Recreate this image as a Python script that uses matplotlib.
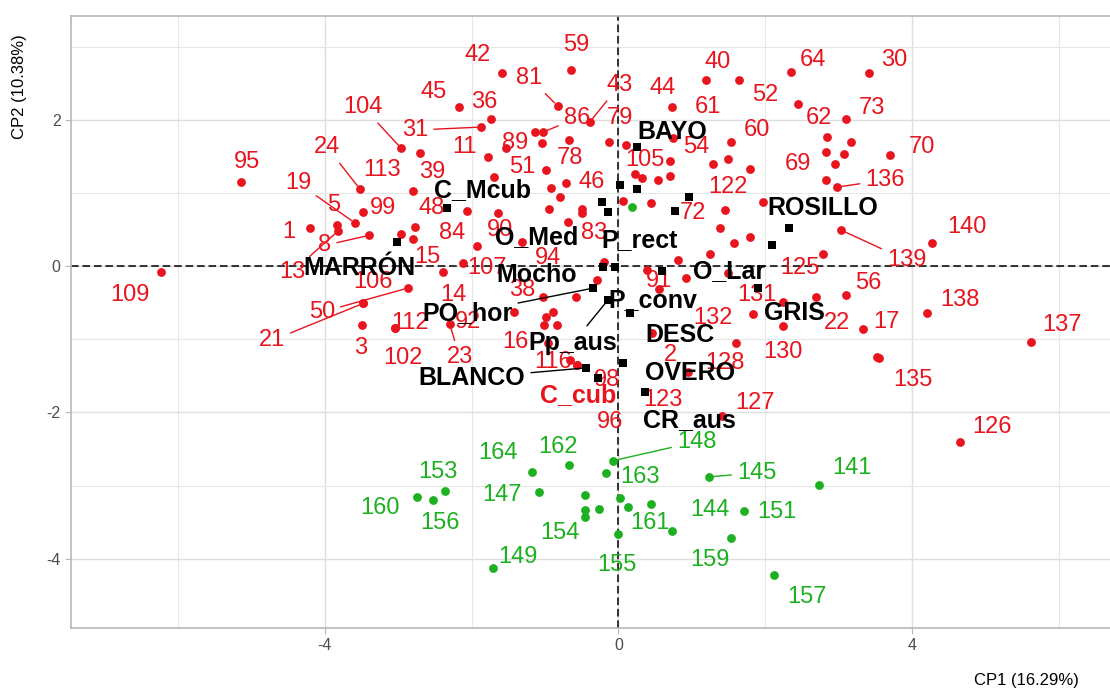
import matplotlib.pyplot as plt
from matplotlib.ticker import FixedLocator

plt.rcParams['font.family'] = ['Liberation Sans', 'DejaVu Sans']
plt.rcParams['axes.unicode_minus'] = False

ROJO = '#E8141E'
VERDE = '#1DB020'

# individuos del grupo 1 (rojo); "" = sin etiqueta
rojo_lab = ["95", "109", "1", "5", "24", "19", "113", "99", "8", "13", "21", "50", "106",
            "3", "112", "102", "23", "92", "14", "15", "84", "107", "48", "39", "104",
            "31", "45", "36", "42", "59", "81", "11", "89", "86", "43", "79", "51", "78",
            "46", "90", "94", "83", "38", "16", "116", "98", "96", "40", "61", "64", "30",
            "44", "52", "73", "62", "60", "54", "69", "136", "70", "105", "122", "72",
            "139", "140", "125", "56", "138", "137", "17", "22", "135", "126", "131",
            "132", "130", "91", "2", "128", "123", "127"] + [""] * 40
rojo_x = [-5.14, -6.23, -4.20, -3.83, -3.52, -3.59, -2.80, -3.48, -3.40, -3.82, -3.48, -2.87, -3.48,
          -3.49, -3.04, -3.04, -2.30, -1.42, -2.39, -2.12, -2.80, -1.93, -2.07, -2.70, -2.96,
          -1.87, -2.17, -1.74, -1.59, -0.65, -0.83, -1.78, -1.53, -1.03, -0.39, -0.13, -0.99, -0.72,
          -0.49, -1.64, -1.32, -0.19, -1.03, -0.96, -0.66, -0.57, -0.57, 1.20, 1.65, 2.35, 3.41,
          0.73, 2.45, 3.10, 2.84, 1.53, 0.74, 2.83, 2.98, 3.70, 0.70, 1.45, 1.38,
          3.04, 4.28, 2.79, 3.10, 4.20, 5.63, 3.34, 2.69, 3.55, 4.66, 2.24,
          1.83, 2.24, 0.56, 0.46, 1.60, 0.95, 1.41,
          -1.13, -1.04, -0.68, -1.70, -0.92, -0.80, -0.95, 0.11, 3.17, 3.07,
          2.95, 2.83, 0.70, 0.54, 0.22, 0.32, 1.29, 1.49, 1.79, 0.06,
          0.44, 1.97, 1.57, 1.79, 1.25, 0.81, 0.39, 0.92, 1.49, 3.53,
          -2.77, -0.69, -0.50, -0.58, -0.29, -0.98, -0.89, -0.84, -1.02, -2.96]
rojo_y = [1.15, -0.08, 0.52, 0.56, 1.05, 0.59, 1.02, 0.74, 0.42, 0.48, -0.51, -0.30, -0.51,
          -0.81, -0.85, -0.85, -0.79, -0.63, -0.08, 0.04, 0.37, 0.27, 0.75, 1.54, 1.61,
          1.90, 2.17, 2.01, 2.64, 2.68, 2.19, 1.49, 1.61, 1.83, 1.97, 1.69, 1.31, 1.13,
          0.78, 0.72, 0.33, 0.05, -0.42, -1.05, -1.28, -1.35, -1.35, 2.54, 2.54, 2.65, 2.64,
          2.17, 2.21, 2.01, 1.76, 1.69, 1.75, 1.56, 1.08, 1.52, 1.43, 0.77, 0.52,
          0.49, 0.31, 0.16, -0.40, -0.64, -1.04, -0.86, -0.42, -1.26, -2.40, -0.49,
          -0.66, -0.82, -0.31, -0.92, -1.05, -1.45, -2.05,
          1.83, 1.68, 1.73, 1.22, 1.07, 0.94, 0.78, 1.65, 1.69, 1.53,
          1.39, 1.17, 1.23, 1.17, 1.26, 1.20, 1.39, 1.46, 1.33, 0.89,
          0.86, 0.87, 0.31, 0.40, 0.16, 0.08, -0.05, -0.16, -0.10, -1.24,
          0.53, 0.60, 0.72, -0.42, -0.19, -0.70, -0.63, -0.81, -0.81, 0.44]

# individuos del grupo 2 (verde)
verde_lab = ["164", "162", "153", "160", "156", "147", "154", "149", "148", "155",
             "163", "145", "141", "144", "151", "161", "159", "157"] + [""] * 6
verde_x = [-1.18, -0.68, -2.36, -2.75, -2.53, -1.08, -0.46, -1.71, -0.08, -0.01,
           0.02, 1.23, 2.73, 0.44, 1.71, 0.73, 1.53, 2.12,
           -0.46, -0.46, -0.27, -0.17, 0.13, 0.18]
verde_y = [-2.81, -2.72, -3.07, -3.16, -3.20, -3.09, -3.33, -4.13, -2.66, -3.66,
           -3.17, -2.88, -2.99, -3.25, -3.35, -3.62, -3.72, -4.22,
           -3.13, -3.43, -3.32, -2.83, -3.29, 0.81]

# variables (cuadrados negros)
var_lab = ["BAYO", "C_Mcub", "MARRÓN", "ROSILLO", "GRIS", "O_Lar", "PO_hor", "Pp_aus",
           "P_conv", "DESC", "OVERO", "CR_aus", "BLANCO", "O_Med", "P_rect", "Mocho",
           "C_cub", "", "", "", "", "", ""]
var_x = [0.25, -2.34, -3.02, 2.32, 1.90, 0.60, -0.34, -0.14,
         0.16, 0.06, 0.36, 0.36, -0.44, -0.23, 0.77, -0.21,
         -0.28, 0.02, 0.25, 0.96, -0.14, -0.05, 2.09]
var_y = [1.63, 0.79, 0.33, 0.52, -0.30, -0.07, -0.30, -0.46,
         -0.64, -1.33, -1.72, -1.72, -1.39, 0.87, 0.75, -0.01,
         -1.53, 1.11, 1.05, 0.94, 0.74, -0.01, 0.29]

# desplazamiento de cada etiqueta respecto a su punto (pixeles)
desp = {
    "95": (6, 20), "109": (-31, -23), "1": (-21, -4), "5": (-4, 20), "24": (-33, 42),
    "19": (-57, 40), "113": (-31, 21), "99": (20, 4), "8": (-44, -10), "13": (-46, -41),
    "21": (-91, -37), "50": (-86, -24), "106": (10, 21), "3": (-2, -23), "112": (15, 5),
    "102": (8, -30), "23": (10, -33), "92": (-46, -10), "14": (10, -23), "15": (-35, 6),
    "84": (39, 6), "107": (10, -22), "48": (-35, 3), "39": (12, -19), "104": (-38, 41),
    "31": (-66, -3), "45": (-26, 15), "36": (-6, 17), "42": (-24, 18), "59": (6, 25),
    "81": (-28, 28), "11": (-23, 10), "89": (9, 5), "86": (34, 14), "43": (30, 37),
    "79": (11, 24), "51": (-24, 3), "78": (4, 25), "46": (9, 27), "90": (2, -17),
    "94": (26, -16), "83": (-10, 29), "38": (-21, 7), "16": (-33, 1), "116": (-17, -2),
    "98": (30, -15), "96": (33, -57), "40": (11, 18), "61": (-32, -27), "64": (22, 12),
    "30": (26, 13), "44": (-9, 19), "52": (-33, 9), "73": (26, 11), "62": (-8, 19),
    "60": (26, 12), "54": (24, -9), "69": (-28, -12), "136": (48, 7), "70": (32, 8),
    "105": (-25, 1), "122": (3, 23), "72": (-27, 15), "139": (65, -30), "140": (34, 16),
    "125": (-23, -14), "56": (22, 12), "138": (33, 13), "137": (31, 17), "17": (23, 7),
    "22": (21, -26), "135": (34, -22), "126": (32, 15), "131": (-26, 7), "132": (-40, -4),
    "130": (0, -26), "91": (0, 8), "2": (18, -22), "128": (-11, -20), "123": (-25, -28),
    "127": (33, 13),
    "164": (-34, 19), "162": (-11, 18), "153": (-7, 19), "160": (-37, -11), "156": (7, -23),
    "147": (-37, -3), "154": (-25, -23), "149": (25, 11), "148": (84, 19), "155": (-1, -31),
    "163": (20, 21), "145": (48, 4), "141": (33, 17), "144": (59, -6), "151": (33, -1),
    "161": (-22, 8), "159": (-21, -22), "157": (33, -22),
    "BAYO": (36, 15), "C_Mcub": (36, 18), "MARRÓN": (-37, -26), "ROSILLO": (34, 20),
    "GRIS": (37, -25), "O_Lar": (67, 0), "PO_hor": (-126, -25), "Pp_aus": (-35, -43),
    "P_conv": (23, 13), "DESC": (57, 28), "OVERO": (45, 19), "CR_aus": (45, -28),
    "BLANCO": (-114, -10), "O_Med": (-65, -35), "P_rect": (-35, -29), "Mocho": (-66, -8),
    "C_cub": (-20, -17),
}
con_linea = {"24", "19", "8", "13", "21", "50", "104", "31", "81", "86", "43", "136",
             "139", "23", "148", "145", "PO_hor", "Pp_aus", "BLANCO", "C_Mcub"}

fig = plt.figure(figsize=(11.1, 6.89), dpi=100)
ax = fig.add_axes([0.064, 0.0885, 0.936, 0.888])

ax.set_xlim(-7.46, 6.70)
ax.set_ylim(-4.945, 3.415)
ax.xaxis.set_major_locator(FixedLocator([-4, 0, 4]))
ax.xaxis.set_minor_locator(FixedLocator([-6, -2, 2, 6]))
ax.yaxis.set_major_locator(FixedLocator([-4, -2, 0, 2]))
ax.yaxis.set_minor_locator(FixedLocator([-3, -1, 1, 3]))
ax.grid(which='major', color='#DEDEDE', lw=1.0)
ax.grid(which='minor', color='#E6E6E6', lw=0.8)
ax.set_axisbelow(True)
for s in ['top', 'left', 'bottom']:
    ax.spines[s].set_color('#B8B8B8')
    ax.spines[s].set_linewidth(1.2)
ax.spines['right'].set_visible(False)
ax.tick_params(which='major', colors='#B8B8B8', labelcolor='#4D4D4D', length=4,
               labelsize=11.5)
ax.tick_params(which='minor', length=0)

ax.axhline(0, color='black', lw=1.1, ls=(0, (5, 2.5)), zorder=2)
ax.axvline(0, color='black', lw=1.1, ls=(0, (5, 2.5)), zorder=2)

ax.scatter(rojo_x, rojo_y, s=40, color=ROJO, zorder=3, linewidths=0)
ax.scatter(verde_x, verde_y, s=40, color=VERDE, zorder=3, linewidths=0)
ax.scatter(var_x, var_y, s=30, marker='s', color='black', zorder=5, linewidths=0)


def etiquetar(labs, xs, ys, color, size, peso, z):
    for lab, x, y in zip(labs, xs, ys):
        if not lab:
            continue
        dx, dy = desp[lab]
        flecha = None
        if lab in con_linea:
            flecha = dict(arrowstyle='-', color=color, lw=1.0, shrinkA=2, shrinkB=3)
        c = ROJO if lab == "C_cub" else color
        ax.annotate(lab, (x, y), xytext=(dx, dy), textcoords='offset pixels',
                    ha='center', va='center', fontsize=size, fontweight=peso,
                    color=c, zorder=z, arrowprops=flecha)


etiquetar(rojo_lab, rojo_x, rojo_y, ROJO, 17, 'normal', 4)
etiquetar(verde_lab, verde_x, verde_y, VERDE, 17, 'normal', 4)
etiquetar(var_lab, var_x, var_y, 'black', 18, 'bold', 6)

fig.text(0.925, 0.006, "CP1 (16.29%)", fontsize=12, color='black', ha='center')
fig.text(0.018, 0.874, "CP2 (10.38%)", fontsize=12, color='black', rotation=90,
         ha='center', va='center')

fig.savefig("out.png", dpi=100)
